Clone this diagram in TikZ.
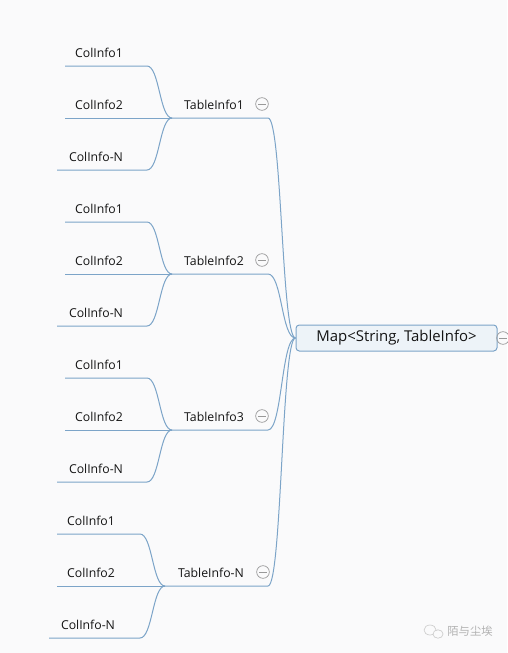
\documentclass[tikz,border=0pt]{standalone}
\usepackage{fontspec}
\setmainfont{Open Sans}
\newfontfamily\cjk{Noto Sans CJK SC}
\definecolor{branch}{RGB}{124,164,200}
\definecolor{paper}{RGB}{250,250,251}
\definecolor{rootfill}{RGB}{237,243,248}
\definecolor{ink}{RGB}{20,20,20}

\begin{document}
\begin{tikzpicture}[x=0.75pt,y=-0.75pt,
  every node/.style={text=ink,font=\fontsize{9.2}{11}\selectfont},
  link/.style={draw=branch,line width=0.75pt},
  sway/.style={out=0,in=180,looseness=0.55},
  root/.style={draw=branch,fill=rootfill,rounded corners=2.5pt,line width=0.75pt,
    minimum width=150.75pt,minimum height=19.5pt,font=\fontsize{11.2}{13}\selectfont},
  fold/.style={circle,draw=gray!80,line width=0.5pt,minimum size=9.5pt,inner sep=0pt,
    path picture={\draw[gray!80,line width=0.5pt]
      ([xshift=2pt]path picture bounding box.west) -- ([xshift=-2pt]path picture bounding box.east);}}]
\fill[paper] (0,0) rectangle (507,653);
\useasboundingbox (0,0) rectangle (507,653);

\node[root] (map) at (396.5,338) {Map<String, TableInfo>};
\node[fold] (f0) at (503,338) {};

% TableInfo1
\node (t1) at (214,105) {TableInfo1};
\node[fold] (f1) at (262,104) {};
\coordinate (j1) at (172,118);
\coordinate (e1) at (268,118);
\node (c11) at (99,53) {ColInfo1};
\node (c12) at (99,105) {ColInfo2};
\node (c13) at (96,157) {ColInfo-N};
\coordinate (a11) at (65,66);
\coordinate (a12) at (65,118);
\coordinate (a13) at (57,170);

% TableInfo2
\node (t2) at (214,261) {TableInfo2};
\node[fold] (f2) at (262,260) {};
\coordinate (j2) at (172,274);
\coordinate (e2) at (268,274);
\node (c21) at (99,209) {ColInfo1};
\node (c22) at (99,261) {ColInfo2};
\node (c23) at (96,313) {ColInfo-N};
\coordinate (a21) at (65,222);
\coordinate (a22) at (65,274);
\coordinate (a23) at (57,326);

% TableInfo3
\node (t3) at (214,417) {TableInfo3};
\node[fold] (f3) at (262,416) {};
\coordinate (j3) at (172,430);
\coordinate (e3) at (268,430);
\node (c31) at (99,365) {ColInfo1};
\node (c32) at (99,417) {ColInfo2};
\node (c33) at (96,469) {ColInfo-N};
\coordinate (a31) at (65,378);
\coordinate (a32) at (65,430);
\coordinate (a33) at (57,482);

% TableInfo-N
\node (t4) at (211,573) {TableInfo-N};
\node[fold] (f4) at (263,572) {};
\coordinate (j4) at (165,586);
\coordinate (e4) at (268,586);
\node (c41) at (91,521) {ColInfo1};
\node (c42) at (91,573) {ColInfo2};
\node (c43) at (88,625) {ColInfo-N};
\coordinate (a41) at (57,534);
\coordinate (a42) at (57,586);
\coordinate (a43) at (49,638);

% columns to tables
\draw[link] (a11) -- ++(82,0) to[sway] (j1);
\draw[link] (a12) -- (j1);
\draw[link] (a13) -- ++(90,0) to[sway] (j1);
\draw[link] (a21) -- ++(82,0) to[sway] (j2);
\draw[link] (a22) -- (j2);
\draw[link] (a23) -- ++(90,0) to[sway] (j2);
\draw[link] (a31) -- ++(82,0) to[sway] (j3);
\draw[link] (a32) -- (j3);
\draw[link] (a33) -- ++(90,0) to[sway] (j3);
\draw[link] (a41) -- ++(83,0) to[sway] (j4);
\draw[link] (a42) -- (j4);
\draw[link] (a43) -- ++(91,0) to[sway] (j4);

% tables to map
\foreach \i in {1,2,3,4}
  \draw[link] (j\i) -- (e\i) .. controls +(14,0) and +(-14,0) .. (map.west);

% watermark
\draw[gray!40,line width=0.5pt] (430,630) ellipse (6 and 5);
\draw[gray!40,line width=0.5pt,fill=paper] (438,634) ellipse (5 and 4.2);
\node[text=gray!60,font=\cjk\fontsize{8.5}{10}\selectfont] (wm) at (470,631) {陌与尘埃};
\end{tikzpicture}
\end{document}
